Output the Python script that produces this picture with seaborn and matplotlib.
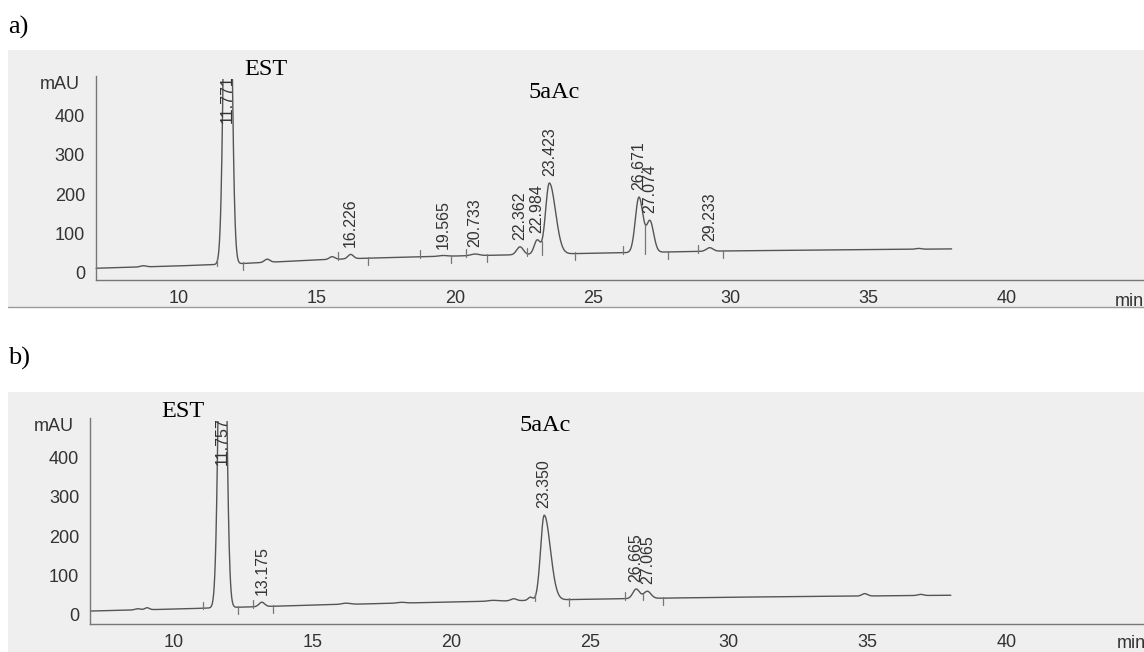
import numpy as np
import pandas as pd
import matplotlib
matplotlib.use("Agg")
import matplotlib.pyplot as plt
from matplotlib.patches import Rectangle
from matplotlib.lines import Line2D
import seaborn as sns

# ---------------- data ----------------
# Panel a
a_peak_rt = [8.7, 11.771, 13.2, 15.55, 16.226, 19.565, 20.733, 22.362, 22.984, 23.423, 26.671, 27.074, 29.233, 36.8]
a_peak_h = [3, 1300, 8, 7, 11, 2, 4, 20, 36, 180, 140, 77, 9, 2]
a_peak_w = [0.10, 0.12, 0.10, 0.10, 0.10, 0.15, 0.15, 0.12, 0.11, 0.135, 0.13, 0.12, 0.12, 0.10]
a_peak_tail = [1, 1, 1, 1, 1, 1, 1, 1, 1, 1.65, 1.15, 1.1, 1, 1]
a_label_rt = [11.771, 16.226, 19.565, 20.733, 22.362, 22.984, 23.423, 26.671, 27.074, 29.233]
a_label_txt = ["11.771", "16.226", "19.565", "20.733", "22.362", "22.984", "23.423", "26.671", "27.074", "29.233"]
a_base_t = [7, 10, 12, 15, 17, 20, 25, 30, 38]
a_base_y = [12, 18, 23, 33, 38, 43, 50, 56, 61]
a_mark_start = [11.38, 15.77, 18.74, 20.41, 22.60, 26.10, 28.82]
a_mark_tall = [23.15]
a_mark_end = [12.33, 16.86, 19.85, 21.18, 24.36, 27.74, 29.73]
a_mark_drop = [26.90]

# Panel b
b_peak_rt = [8.7, 9.04, 11.757, 13.175, 16.2, 18.2, 21.5, 22.25, 22.85, 23.350, 26.665, 27.065, 34.9, 36.9]
b_peak_h = [3, 5, 1200, 11, 3, 2, 2, 5, 8, 215, 24, 18, 6, 3]
b_peak_w = [0.10, 0.08, 0.12, 0.10, 0.15, 0.15, 0.15, 0.10, 0.08, 0.13, 0.12, 0.13, 0.10, 0.10]
b_peak_tail = [1, 1, 1, 1, 1, 1, 1, 1, 1, 1.7, 1, 1, 1, 1]
b_label_rt = [11.757, 13.175, 23.350, 26.665, 27.065]
b_label_txt = ["11.757", "13.175", "23.350", "26.665", "27.065"]
b_base_t = [7, 10, 15, 20, 25, 30, 38]
b_base_y = [10, 15, 25, 33, 40, 45, 50]
b_mark_start = [11.06, 12.87, 23.02, 26.26]
b_mark_tall = []
b_mark_end = [12.33, 13.59, 24.26, 27.62]
b_mark_drop = [26.92]

y_major = [0, 100, 200, 300, 400]
x_major = [10, 15, 20, 25, 30, 35, 40]


def build_trace(rt, h, w, tail, bt, by):
    t = np.arange(7.0, 38.0001, 0.01)
    y = np.interp(t, bt, by).astype(float)
    for r, hh, ww, tf in zip(rt, h, w, tail):
        sig = np.where(t < r, ww, ww * tf)
        y = y + hh * np.exp(-0.5 * ((t - r) / sig) ** 2)
    return pd.DataFrame({"time": t, "signal": y})


sns.set_style("white")
plt.rcParams["font.family"] = ["Liberation Sans", "DejaVu Sans"]

W, H = 1144, 652
fig = plt.figure(figsize=(W / 100, H / 100), dpi=100)
fig.patch.set_facecolor("white")

LINE = "#555555"
AX = "#777777"
TXT = "#333333"
BG = "#efefef"


def panel(rect, df, bt, by, lab_rt, lab_txt, starts, talls, ends, drops, xlim, ylim, xaxis_y,
          est_xy, ac_xy, min_xy):
    ax = fig.add_axes(rect)
    ax.set_facecolor(BG)
    sns.lineplot(data=df, x="time", y="signal", ax=ax, color=LINE, lw=1.0)
    line = ax.lines[-1]
    line.set_clip_path(Rectangle((0, -200), 60, 690, transform=ax.transData))
    ax.set_xlim(*xlim)
    ax.set_ylim(*ylim)
    ax.set_xlabel("")
    ax.set_ylabel("")
    for s in ["top", "right"]:
        ax.spines[s].set_visible(False)
    ax.spines["left"].set_position(("data", 7))
    ax.spines["left"].set_bounds(xaxis_y, 500)
    ax.spines["bottom"].set_position(("data", xaxis_y))
    ax.spines["bottom"].set_bounds(7, 45)
    for s in ["left", "bottom"]:
        ax.spines[s].set_color(AX)
        ax.spines[s].set_linewidth(1.0)
    ax.set_xticks(x_major)
    ax.set_xticks(np.arange(7, 45), minor=True)
    ax.set_yticks(y_major)
    ax.set_yticks(np.arange(0, 501, 20), minor=True)
    ax.tick_params(axis="both", which="major", direction="out", length=5, width=1,
                   color=AX, labelcolor=TXT, labelsize=13)
    ax.tick_params(axis="both", which="minor", direction="out", length=2.5, width=0.8, color=AX)
    ax.tick_params(axis="x", which="major", pad=2)
    ax.tick_params(axis="y", which="major", pad=3)

    t = df["time"].to_numpy()
    y = df["signal"].to_numpy()

    # integration event markers
    mk = 17
    for r in starts:
        b0 = np.interp(r, bt, by)
        ax.plot([r, r], [b0 - 3, b0 + mk], color=AX, lw=0.9)
    for r in talls:
        b0 = np.interp(r, bt, by)
        ax.plot([r, r], [b0 - 3, b0 + 2 * mk], color=AX, lw=0.9)
    for r in ends:
        b0 = np.interp(r, bt, by)
        ax.plot([r, r], [b0 + 3, b0 - mk], color=AX, lw=0.9)
    for r in drops:
        b0 = np.interp(r, bt, by)
        yv = np.interp(r, t, y)
        ax.plot([r, r], [b0 - 3, yv], color=AX, lw=0.9)

    # peak retention-time labels
    for r, s in zip(lab_rt, lab_txt):
        sel = np.abs(t - r) < 0.06
        top = min(y[sel].max(), 362)
        ax.annotate(s, xy=(r, top), xytext=(0, 5), textcoords="offset points",
                    rotation=90, ha="center", va="bottom", fontsize=11.5, color=TXT)

    ax.annotate("mAU", xy=(7, 476), xytext=(-12, 0), textcoords="offset points",
                ha="right", va="center", fontsize=13, color=TXT)
    ax.text(min_xy[0], min_xy[1], "min", ha="left", va="center", fontsize=13, color=TXT)
    ax.text(est_xy[0], est_xy[1], "EST", ha="center", va="center", fontsize=17.5,
            family="Liberation Serif", color="black")
    ax.text(ac_xy[0], ac_xy[1], "5aAc", ha="center", va="center", fontsize=17.5,
            family="Liberation Serif", color="black")
    return ax


df_a = build_trace(a_peak_rt, a_peak_h, a_peak_w, a_peak_tail, a_base_t, a_base_y)
df_b = build_trace(b_peak_rt, b_peak_h, b_peak_w, b_peak_tail, b_base_t, b_base_y)

panel([8 / W, (H - 307) / H, 1136 / W, 257 / H], df_a, a_base_t, a_base_y,
      a_label_rt, a_label_txt, a_mark_start, a_mark_tall, a_mark_end, a_mark_drop,
      (3.81, 44.97), (-86.1, 564.6), -17.7,
      (13.16, 514), (23.6, 456), (43.9, -73))

panel([8 / W, 0, 1136 / W, 260 / H], df_b, b_base_t, b_base_y,
      b_label_rt, b_label_txt, b_mark_start, b_mark_tall, b_mark_end, b_mark_drop,
      (4.03, 44.96), (-93.7, 564.6), -22.8,
      (10.33, 514), (23.38, 481), (43.99, -71))

# scan edge under panel a
fig.add_artist(Line2D([8 / W, 1.0], [(H - 307) / H] * 2, transform=fig.transFigure,
                      color="#9a9a9a", lw=1.0))

fig.text(8 / W, 1 - 27 / H, "a)", ha="left", va="center", fontsize=19,
         family="Liberation Serif", color="black")
fig.text(8 / W, 1 - 358 / H, "b)", ha="left", va="center", fontsize=19,
         family="Liberation Serif", color="black")

fig.savefig("out.png", dpi=100, facecolor="white")
